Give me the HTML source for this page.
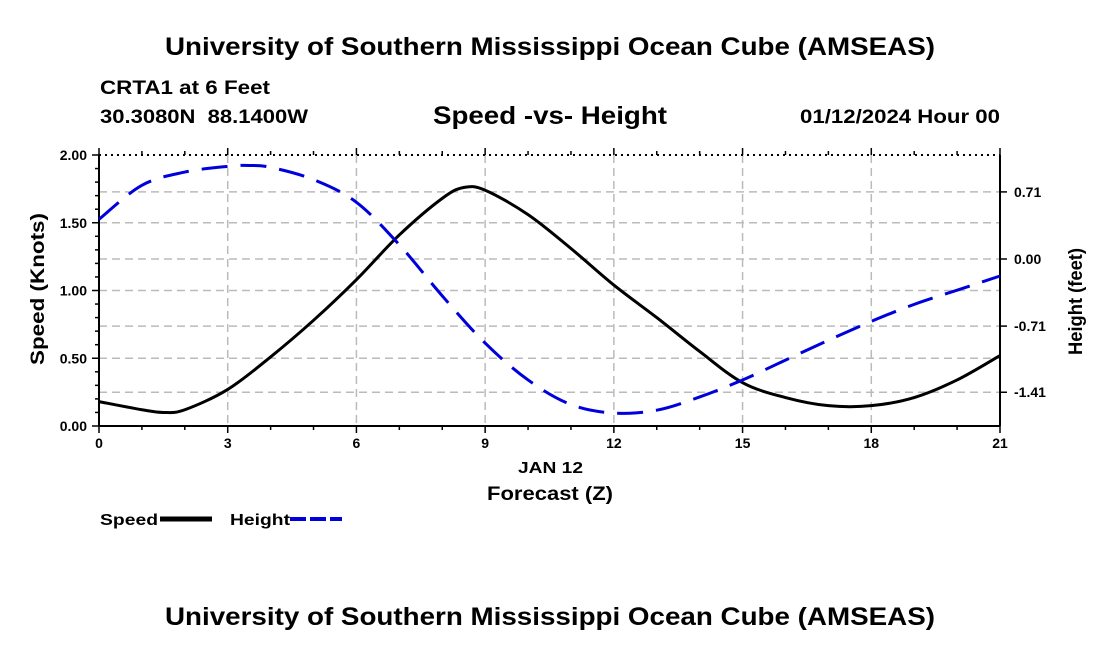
<!DOCTYPE html>
<html><head><meta charset="utf-8"><style>
body{margin:0;background:#fff;}
text{font-family:"Liberation Sans",sans-serif;font-weight:bold;fill:#000;}
</style></head><body>
<svg id="chart" width="1100" height="650" xmlns="http://www.w3.org/2000/svg">
<text x="165" y="55" font-size="25" textLength="770" lengthAdjust="spacingAndGlyphs">University of Southern Mississippi Ocean Cube (AMSEAS)</text>
<text x="100" y="94" font-size="19" textLength="170" lengthAdjust="spacingAndGlyphs">CRTA1 at 6 Feet</text>
<text x="100" y="123" font-size="19" textLength="208" lengthAdjust="spacingAndGlyphs" xml:space="preserve">30.3080N  88.1400W</text>
<text x="433" y="124" font-size="25" textLength="234" lengthAdjust="spacingAndGlyphs">Speed -vs- Height</text>
<text x="800" y="123" font-size="19" textLength="200" lengthAdjust="spacingAndGlyphs">01/12/2024 Hour 00</text>
<g id="grid"></g>
<g id="axes"></g>
<g id="series"></g>
<text transform="translate(44,365) rotate(-90)" font-size="19" textLength="152" lengthAdjust="spacingAndGlyphs">Speed (Knots)</text>
<text transform="translate(1082,355) rotate(-90)" font-size="19" textLength="107" lengthAdjust="spacingAndGlyphs">Height (feet)</text>
<text x="518" y="473" font-size="16" textLength="65" lengthAdjust="spacingAndGlyphs">JAN 12</text>
<text x="487" y="500" font-size="19" textLength="126" lengthAdjust="spacingAndGlyphs">Forecast (Z)</text>
<g><text x="100" y="525" font-size="16" textLength="58" lengthAdjust="spacingAndGlyphs">Speed</text><line x1="160" y1="519" x2="212" y2="519" stroke="#000" stroke-width="5"/></g>
<g><text x="230" y="525" font-size="16" textLength="60" lengthAdjust="spacingAndGlyphs">Height</text><line x1="290" y1="519" x2="342" y2="519" stroke="#0000dd" stroke-width="4" stroke-dasharray="16,4"/></g>
<text x="165" y="625" font-size="25" textLength="770" lengthAdjust="spacingAndGlyphs">University of Southern Mississippi Ocean Cube (AMSEAS)</text>
</svg>
<script>
const hours=[0,1,1.5,2,3,4,5,6,7,8,8.5,9,10,11,12,13,14,15,16,17,18,19,20,21];
const speed=[0.18,0.12,0.10,0.12,0.27,0.51,0.78,1.08,1.41,1.68,1.76,1.74,1.56,1.31,1.04,0.80,0.55,0.32,0.21,0.15,0.15,0.21,0.34,0.52];
const heightHours=[0,1,2,3,3.5,4,5,6,7,8,9,10,11,12,13,14,15,16,17,18,19,20,21];
const height=[0.42,0.78,0.92,0.98,0.99,0.97,0.84,0.60,0.15,-0.39,-0.89,-1.28,-1.54,-1.63,-1.60,-1.46,-1.28,-1.07,-0.86,-0.66,-0.48,-0.33,-0.18];
const xTicks=[0,3,6,9,12,15,18,21];
const speedTicks=[0,0.5,1.0,1.5,2.0];
const heightTicks=[0.71,0,-0.71,-1.41];
const L=99,R=1000,T=155,B=426;
const x=h=>L+(R-L)*h/21;
const ys=v=>B-(B-T)*v/2;
const yh=v=>259-94.5*v;
const NS="http://www.w3.org/2000/svg";
function mk(p,tag,a){const e=document.createElementNS(NS,tag);for(const k in a)e.setAttribute(k,a[k]);p.appendChild(e);return e;}
function smooth(pts){let d='M'+pts[0][0]+','+pts[0][1];for(let i=0;i<pts.length-1;i++){const p0=pts[i-1]||pts[i],p1=pts[i],p2=pts[i+1],p3=pts[i+2]||p2;
const c1=[p1[0]+(p2[0]-p0[0])/6,p1[1]+(p2[1]-p0[1])/6],c2=[p2[0]-(p3[0]-p1[0])/6,p2[1]-(p3[1]-p1[1])/6];
d+=' C'+c1[0]+','+c1[1]+' '+c2[0]+','+c2[1]+' '+p2[0]+','+p2[1];}return d;}
const grid=document.getElementById('grid'),axes=document.getElementById('axes'),series=document.getElementById('series');
const gs={stroke:'#bbb','stroke-width':1.5,'stroke-dasharray':'8,5'};
xTicks.forEach(h=>{if(h>0&&h<21){const e=mk(grid,'line',Object.assign({x1:x(h),x2:x(h),y1:T,y2:B},gs));

}});
speedTicks.forEach(v=>{if(v>0&&v<2){const e=mk(grid,'line',Object.assign({x1:L,x2:R,y1:ys(v),y2:ys(v)},gs));

}});
heightTicks.forEach(v=>{const e=mk(grid,'line',Object.assign({x1:L,x2:R,y1:yh(v),y2:yh(v)},gs));

});
mk(axes,'line',{x1:L,x2:L,y1:T,y2:B,stroke:'#000','stroke-width':2});
mk(axes,'line',{x1:R,x2:R,y1:T,y2:B,stroke:'#000','stroke-width':2});
mk(axes,'line',{x1:L,x2:R,y1:B,y2:B,stroke:'#000','stroke-width':2});
mk(axes,'line',{x1:L,x2:R,y1:T,y2:T,stroke:'#000','stroke-width':2,'stroke-dasharray':'2,4'});
for(let h=0;h<=21;h++){const big=h%3==0;mk(axes,'line',{x1:x(h),x2:x(h),y1:B,y2:B+(big?7:4),stroke:'#000','stroke-width':1.5});mk(axes,'line',{x1:x(h),x2:x(h),y1:T,y2:T-(big?7:4),stroke:'#000','stroke-width':1.5});}
xTicks.forEach(h=>{const t=mk(axes,'text',{x:x(h),y:B+22,'font-size':14,'text-anchor':'middle'});t.textContent=h;

});
for(let v=0;v<=2.001;v+=0.1){mk(axes,'line',{x1:L,x2:L-(Math.abs(v*2-Math.round(v*2))<0.01?7:4),y1:ys(v),y2:ys(v),stroke:'#000','stroke-width':1.5});}
speedTicks.forEach(v=>{const t=mk(axes,'text',{x:L-12,y:ys(v)+5,'font-size':14,'text-anchor':'end'});t.textContent=v.toFixed(2);

});
heightTicks.forEach(v=>{mk(axes,'line',{x1:R,x2:R+7,y1:yh(v),y2:yh(v),stroke:'#000','stroke-width':1.5});
const t=mk(axes,'text',{x:R+14,y:yh(v)+5,'font-size':14});t.textContent=v.toFixed(2);

});
const sp=mk(series,'path',{d:smooth(hours.map((h,i)=>[x(h),ys(speed[i])])),fill:'none',stroke:'#000','stroke-width':3,'stroke-linejoin':'round'});


const hp=mk(series,'path',{d:smooth(heightHours.map((h,i)=>[x(h),yh(height[i])])),fill:'none',stroke:'#0000dd','stroke-width':3,'stroke-dasharray':'26,13'});


</script>
</body></html>
